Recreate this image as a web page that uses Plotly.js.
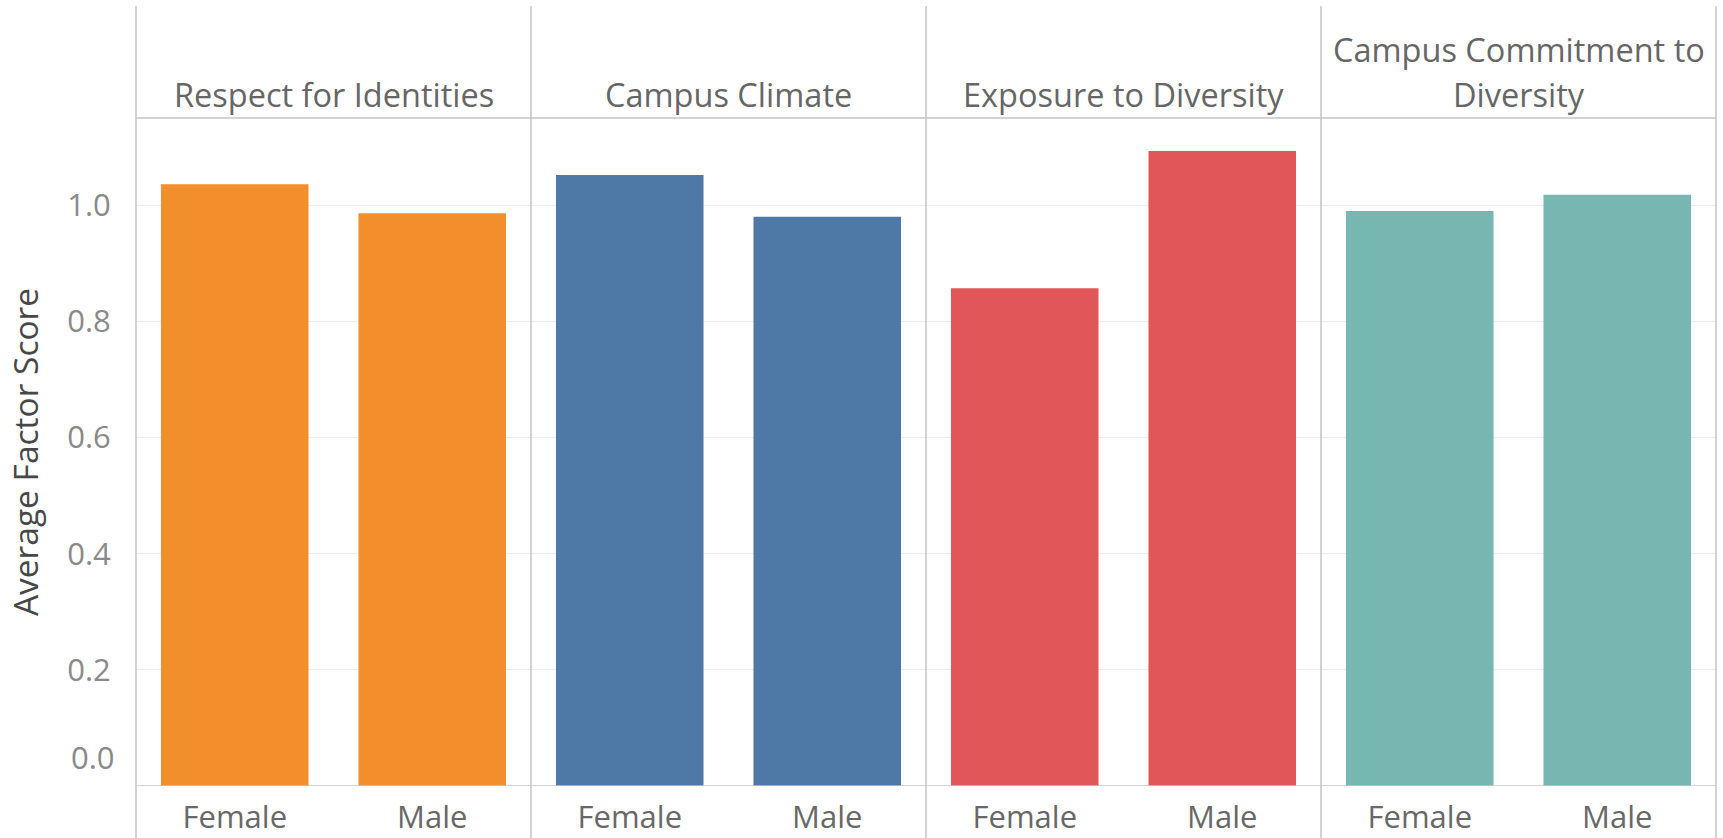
<!DOCTYPE html>
<html>
<head>
<meta charset="utf-8">
<script src="https://cdn.plot.ly/plotly-3.0.1.min.js"></script>
<style>html,body{margin:0;padding:0;background:#fff;}#chart{width:1723px;height:838px;}</style>
</head>
<body>
<div id="chart"></div>
<script>
// ---- data ----
const factors = ["Respect for Identities", "Campus Climate", "Exposure to Diversity", "Campus Commitment to Diversity"];
const headerLines = [["Respect for Identities"], ["Campus Climate"], ["Exposure to Diversity"], ["Campus Commitment to", "Diversity"]];
const genders = ["Female", "Male"];
const respectScores = [1.036, 0.986];
const climateScores = [1.052, 0.980];
const exposureScores = [0.857, 1.093];
const commitmentScores = [0.990, 1.018];
const yTickVals = [0.2, 0.4, 0.6, 0.8, 1.0];
const yTickText = ["0.2", "0.4", "0.6", "0.8", "1.0"];
const zeroLabel = "0.0";
const yTitle = "Average Factor Score";

// ---- style ----
const colors = ["#F28E2B", "#4E79A7", "#E15759", "#76B7B2"];
const seriesValues = [respectScores, climateScores, exposureScores, commitmentScores];
const FONT = "'Open Sans', 'DejaVu Sans', sans-serif";
const lineColor = "#c4c4c4";

const W = 1723, H = 838;
const margin = {l: 136, r: 7, t: 118, b: 52};
const plotH = H - margin.t - margin.b;

const traces = seriesValues.map((vals, i) => ({
  type: "bar",
  x: genders,
  y: vals,
  xaxis: i === 0 ? "x" : "x" + (i + 1),
  yaxis: "y",
  marker: {color: colors[i], line: {width: 0}},
  hoverinfo: "x+y",
  showlegend: false
}));

const layout = {
  width: W, height: H,
  margin: margin,
  paper_bgcolor: "#ffffff",
  plot_bgcolor: "#ffffff",
  bargap: 0.253,
  font: {family: FONT, color: "#666"},
  yaxis: {
    range: [0, 1.15],
    tickvals: yTickVals,
    ticktext: yTickText,
    ticks: "outside", ticklen: 18, tickcolor: "rgba(0,0,0,0)",
    tickfont: {size: 31, color: "#8a8a8a", family: FONT},
    showgrid: true, gridcolor: "#ececec", gridwidth: 1,
    zeroline: false, showline: false,
    title: {text: yTitle, font: {size: 33.5, color: "#484848", family: FONT}, standoff: 18},
    fixedrange: true
  },
  annotations: [],
  shapes: []
};

for (let i = 0; i < factors.length; i++) {
  const key = i === 0 ? "xaxis" : "xaxis" + (i + 1);
  layout[key] = {
    domain: [i / 4, (i + 1) / 4],
    anchor: "y",
    type: "category",
    categoryorder: "array",
    categoryarray: genders,
    range: [-0.5, 1.5],
    ticks: "outside", ticklen: 4, tickcolor: "rgba(0,0,0,0)",
    tickfont: {size: 31, color: "#686868", family: FONT},
    showgrid: false, zeroline: false, showline: false,
    fixedrange: true
  };
  // facet header text
  const lines = headerLines[i];
  const lineGap = 45;
  lines.forEach((ln, j) => {
    const fromBottom = (lines.length - 1 - j) * lineGap + 23;
    layout.annotations.push({
      xref: "paper", yref: "paper",
      x: (i + 0.5) / 4, y: 1 + fromBottom / plotH,
      text: ln, showarrow: false,
      xanchor: "center", yanchor: "middle",
      font: {size: 32.5, color: "#666666", family: FONT}
    });
  });
}

// 0.0 label sits just above the baseline, as in the original
layout.annotations.push({
  xref: "paper", yref: "y", x: 0, y: 0,
  text: zeroLabel, showarrow: false,
  xanchor: "right", yanchor: "bottom", xshift: -19, yshift: 6,
  font: {size: 31, color: "#8a8a8a", family: FONT}
});

// panel dividers
const topY = 1 + (margin.t - 6) / plotH;
const botY = -margin.b / plotH;
for (let i = 0; i <= 4; i++) {
  layout.shapes.push({type: "line", xref: "paper", yref: "paper", x0: i / 4, x1: i / 4, y0: botY, y1: topY,
    line: {color: lineColor, width: 1.5}, layer: "above"});
}
// header separator and baseline
layout.shapes.push({type: "line", xref: "paper", yref: "paper", x0: 0, x1: 1, y0: 1, y1: 1, line: {color: lineColor, width: 1.5}});
layout.shapes.push({type: "line", xref: "paper", yref: "y", x0: 0, x1: 1, y0: 0, y1: 0, line: {color: lineColor, width: 1.5}, layer: "above"});

Plotly.newPlot("chart", traces, layout, {displayModeBar: false, staticPlot: true});
</script>
</body>
</html>
